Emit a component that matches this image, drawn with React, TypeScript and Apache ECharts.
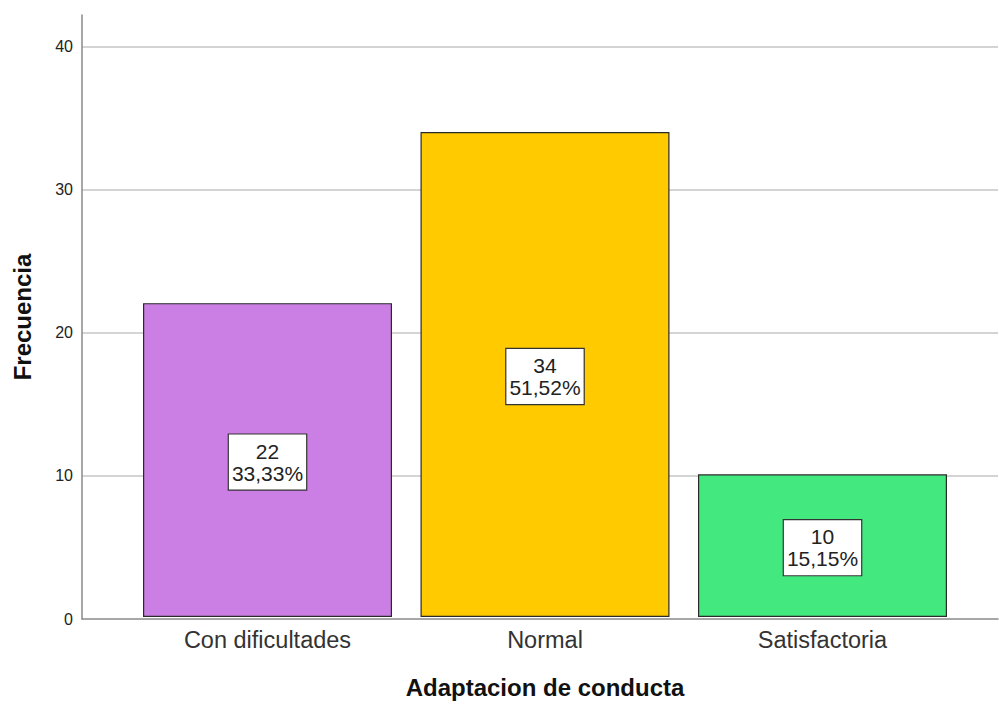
import React, { useEffect, useRef } from "react";
import * as echarts from "echarts";

const categories = ["Con dificultades", "Normal", "Satisfactoria"];
const counts = [22, 34, 10];
const percents = ["33,33%", "51,52%", "15,15%"];
const barColors = ["#CB7FE4", "#FFCB00", "#43E87E"];
const yTicks = [0, 10, 20, 30, 40];
const gridLineValues = [10, 20, 30, 40];

export default function App() {
  const ref = useRef<HTMLDivElement>(null);
  useEffect(() => {
    if (!ref.current) return;
    const chart = echarts.init(ref.current, undefined, { renderer: "svg" });
    const font = "'Liberation Sans', Arial, sans-serif";
    chart.setOption({
      animation: false,
      backgroundColor: "#ffffff",
      textStyle: { fontFamily: font },
      grid: [
        { left: 82, right: 1, top: 15, bottom: 85 },
        { left: 128.75, right: 37.75, top: 15, bottom: 85 },
      ],
      xAxis: [
        {
          type: "value",
          gridIndex: 0,
          min: 0,
          max: 1,
          axisLine: { show: true, lineStyle: { color: "#8a8a8a", width: 1.5 } },
          axisTick: { show: false },
          axisLabel: { show: false },
          splitLine: { show: false },
        },
        {
          type: "category",
          gridIndex: 1,
          data: categories,
          axisLine: { show: false },
          axisTick: { show: false },
          axisLabel: { color: "#333", fontSize: 23.5, margin: 11, fontFamily: font },
          name: "Adaptacion de conducta",
          nameLocation: "middle",
          nameGap: 58,
          nameTextStyle: { fontSize: 24, fontWeight: "bold", color: "#111", fontFamily: font },
        },
      ],
      yAxis: [
        {
          type: "value",
          gridIndex: 0,
          min: 0,
          max: 42.2,
          interval: 10,
          axisLine: { show: true, lineStyle: { color: "#8a8a8a", width: 1.5 } },
          axisTick: { show: false },
          axisLabel: {
            color: "#222",
            fontSize: 16,
            margin: 9,
            fontFamily: font,
            formatter: (v: number) => (yTicks.includes(v) ? String(v) : ""),
          },
          splitLine: { show: false },
          name: "Frecuencia",
          nameLocation: "middle",
          nameRotate: 90,
          nameGap: 48,
          nameTextStyle: { fontSize: 24, fontWeight: "bold", color: "#111", fontFamily: font },
        },
        {
          type: "value",
          gridIndex: 1,
          min: 0,
          max: 42.2,
          show: false,
          splitLine: { show: false },
        },
      ],
      series: [
        {
          type: "line",
          xAxisIndex: 0,
          yAxisIndex: 0,
          data: [],
          z: 0,
          silent: true,
          markLine: {
            silent: true,
            z: 0,
            symbol: "none",
            label: { show: false },
            lineStyle: { color: "#d4d4d4", width: 2, type: "solid" },
            data: gridLineValues.map((v) => ({ yAxis: v })),
          },
        },
        {
          type: "bar",
          xAxisIndex: 1,
          yAxisIndex: 1,
          barWidth: 249,
          z: 10,
          data: counts.map((v, i) => ({
            value: v,
            itemStyle: { color: barColors[i], borderColor: "#2a2a2a", borderWidth: 1.2 },
          })),
          label: {
            show: true,
            position: "inside",
            offset: [0, 2],
            formatter: (p: any) => `${counts[p.dataIndex]}\n${percents[p.dataIndex]}`,
            color: "#222",
            fontSize: 21,
            lineHeight: 22,
            fontFamily: font,
            align: "center",
            backgroundColor: "#ffffff",
            borderColor: "#333",
            borderWidth: 1.2,
            padding: [6, 3, 5, 3],
          },
        },
      ],
    });
    return () => chart.dispose();
  }, []);
  return (
    <div
      ref={ref}
      style={{ position: "fixed", left: 0, top: 0, width: 999, height: 704, background: "#fff" }}
    />
  );
}
